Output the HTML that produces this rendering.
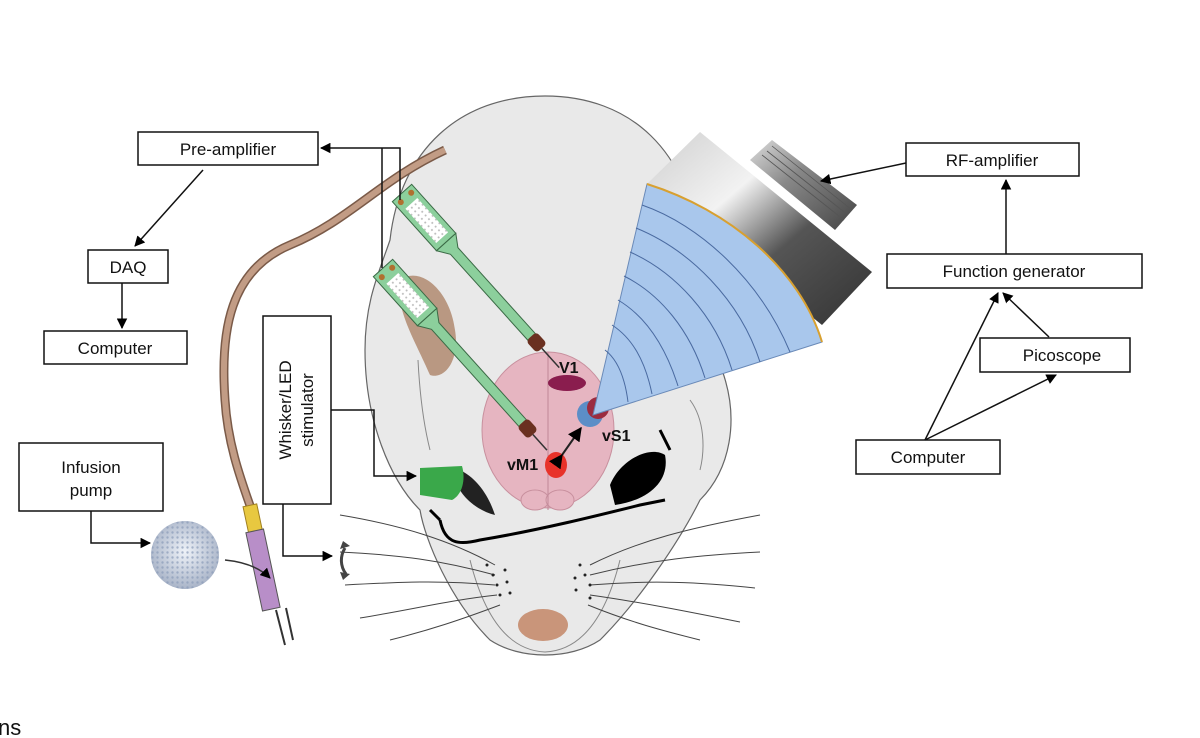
<!DOCTYPE html>
<html><head><meta charset="utf-8"><style>
html,body{margin:0;padding:0;background:#fff;width:1200px;height:738px;overflow:hidden}
svg{display:block}
text{font-family:"Liberation Sans",Arial,sans-serif;fill:#111}
</style></head><body>
<svg width="1200" height="738" viewBox="0 0 1200 738" xmlns="http://www.w3.org/2000/svg">
<defs>
<marker id="a" viewBox="0 0 10 10" refX="9" refY="5" markerWidth="7" markerHeight="7" orient="auto"><path d="M0,0L10,5L0,10z" fill="#000"/></marker>
<linearGradient id="metal" x1="0" y1="0" x2="1" y2="1"><stop offset="0" stop-color="#cfcfcf"/><stop offset="0.35" stop-color="#f2f2f2"/><stop offset="0.6" stop-color="#555"/><stop offset="1" stop-color="#333"/></linearGradient>
<linearGradient id="metal2" x1="0" y1="0" x2="1" y2="1"><stop offset="0" stop-color="#ddd"/><stop offset="0.4" stop-color="#888"/><stop offset="1" stop-color="#444"/></linearGradient>
<radialGradient id="sph" cx="0.5" cy="0.45" r="0.55"><stop offset="0" stop-color="#eef2f8"/><stop offset="1" stop-color="#a9b4c8"/></radialGradient>
<pattern id="dots" width="5" height="5" patternUnits="userSpaceOnUse"><circle cx="2.5" cy="2.5" r="1.2" fill="#8a9bb8"/></pattern>
<pattern id="pads" width="5" height="5" patternUnits="userSpaceOnUse"><rect width="5" height="5" fill="#fff"/><circle cx="2.5" cy="2.5" r="1" fill="#bbb"/></pattern>
</defs>

<!-- mouse head -->
<path d="M545,96 C630,96 690,150 700,250 C705,300 715,330 722,370 C740,420 730,470 700,500 C680,540 640,600 600,640 C570,660 520,660 490,640 C450,600 425,540 420,510 C390,480 365,420 365,350 C365,300 380,270 390,240 C400,150 460,96 545,96 Z" fill="#e9e9e9" stroke="#666" stroke-width="1.2"/>
<path d="M418,360 C420,400 425,430 430,450 M700,470 C705,450 705,420 690,400" fill="none" stroke="#888" stroke-width="1"/>
<!-- left ear -->
<path d="M400,280 C420,265 450,290 455,330 C460,360 445,380 430,375 C415,340 395,310 400,280Z" fill="#b08a70" opacity="0.85"/>
<!-- snout -->
<path d="M470,560 C480,600 500,650 545,652 C590,650 610,600 620,560" fill="none" stroke="#888" stroke-width="1"/>
<ellipse cx="543" cy="625" rx="25" ry="16" fill="#c9957a"/>

<!-- brain -->
<ellipse cx="548" cy="430" rx="66" ry="78" fill="#e6b5c1" stroke="#c8909e" stroke-width="1"/>
<ellipse cx="535" cy="500" rx="14" ry="10" fill="#e6b5c1" stroke="#c8909e"/>
<ellipse cx="560" cy="500" rx="14" ry="10" fill="#e6b5c1" stroke="#c8909e"/>
<line x1="548" y1="352" x2="548" y2="510" stroke="#c08898" stroke-width="1"/>
<ellipse cx="567" cy="383" rx="19" ry="8" fill="#8a1d4e"/>
<circle cx="590" cy="414" r="13" fill="#3a84c8" opacity="0.8"/>
<circle cx="598" cy="408" r="11" fill="#9b2c40"/>
<ellipse cx="556" cy="465" rx="11" ry="13" fill="#e8322a"/>
<line x1="562" y1="455" x2="581" y2="428" stroke="#222" stroke-width="2" marker-start="url(#a)" marker-end="url(#a)"/>
<text x="559" y="373" font-size="16" font-weight="bold">V1</text>
<text x="602" y="441" font-size="16" font-weight="bold">vS1</text>
<text x="507" y="470" font-size="16" font-weight="bold">vM1</text>

<!-- eyes -->
<path d="M460,470 C480,480 490,500 495,515 C475,510 460,495 455,480Z" fill="#222"/>
<path d="M420,468 L462,466 C466,480 462,495 452,500 L420,495 Z" fill="#3aa84a"/>
<path d="M610,485 C620,460 650,445 665,455 C670,480 650,500 615,505Z" fill="#000"/>
<!-- headband -->
<path d="M440,520 C445,545 460,545 480,540 C540,530 600,515 640,505 L665,500 M660,430 L670,450" fill="none" stroke="#000" stroke-width="3"/>
<path d="M430,510 L440,520" stroke="#000" stroke-width="3"/>

<!-- whiskers -->
<g stroke="#444" stroke-width="1" fill="none">
<path d="M495,565 C450,540 400,525 340,515"/><path d="M495,575 C440,560 400,555 340,552"/><path d="M495,585 C440,580 400,582 345,585"/><path d="M497,595 C450,600 410,610 360,618"/><path d="M500,605 C460,620 430,630 390,640"/>
<path d="M590,565 C640,540 690,528 760,515"/><path d="M590,575 C650,560 700,555 760,552"/><path d="M590,585 C650,580 700,582 755,588"/><path d="M590,595 C640,602 690,612 740,622"/><path d="M588,605 C630,622 660,630 700,640"/>
</g>
<g fill="#222"><circle cx="487" cy="565" r="1.5"/><circle cx="493" cy="575" r="1.5"/><circle cx="497" cy="585" r="1.5"/><circle cx="500" cy="595" r="1.5"/><circle cx="505" cy="570" r="1.5"/><circle cx="507" cy="582" r="1.5"/><circle cx="510" cy="593" r="1.5"/>
<circle cx="580" cy="565" r="1.5"/><circle cx="585" cy="575" r="1.5"/><circle cx="590" cy="585" r="1.5"/><circle cx="575" cy="578" r="1.5"/><circle cx="576" cy="590" r="1.5"/><circle cx="590" cy="598" r="1.5"/></g>

<!-- ultrasound transducer -->
<polygon points="700,132 872,272 822,325 647,184" fill="url(#metal)"/>
<polygon points="772,140 857,205 835,230 750,160" fill="url(#metal2)"/>
<g stroke="#555" stroke-width="0.8"><line x1="772" y1="146" x2="852" y2="210"/><line x1="767" y1="151" x2="848" y2="215"/><line x1="762" y1="155" x2="844" y2="220"/></g>
<path d="M647,184 C730,210 800,270 822,342 L593,415 Z" fill="#a9c7ec" stroke="#6a8ab8" stroke-width="1"/>
<path d="M647,184 C730,210 800,270 822,342" fill="none" stroke="#d8a030" stroke-width="2"/>
<g fill="none" stroke="#4a6aa0" stroke-width="1">
<path d="M642,205 C700,225 760,280 790,352"/><path d="M636,228 C690,250 740,300 760,362"/><path d="M630,252 C675,272 715,315 732,370"/><path d="M624,276 C660,294 690,330 705,378"/><path d="M618,300 C645,316 665,345 678,386"/><path d="M612,325 C632,338 645,360 652,394"/><path d="M605,350 C618,360 625,378 628,402"/>
</g>

<!-- tube -->
<path d="M445,150 C380,180 350,220 290,245 C230,270 220,330 225,400 C228,450 245,490 255,520" fill="none" stroke="#7a5a48" stroke-width="9"/>
<path d="M445,150 C380,180 350,220 290,245 C230,270 220,330 225,400 C228,450 245,490 255,520" fill="none" stroke="#c29c85" stroke-width="6"/>
<!-- syringe -->
<rect x="246" y="505" width="14" height="32" fill="#e8c840" stroke="#a08020" transform="rotate(-12 253 520)"/>
<rect x="254" y="530" width="18" height="80" fill="#b88ec8" stroke="#555" transform="rotate(-12 263 570)"/>
<line x1="276" y1="610" x2="285" y2="645" stroke="#333" stroke-width="2"/><line x1="286" y1="608" x2="293" y2="640" stroke="#333" stroke-width="2"/>
<path d="M225,560 C245,562 260,568 270,578" fill="none" stroke="#333" stroke-width="1.5" marker-end="url(#a)"/>
<!-- sphere -->
<circle cx="185" cy="555" r="34" fill="url(#sph)"/>
<circle cx="185" cy="555" r="34" fill="url(#dots)" opacity="0.7"/>

<!-- probes (pointing down-right) -->
<g transform="translate(402,193) rotate(-42)">
<rect x="-13" y="0" width="26" height="66" fill="#8ccf9c" stroke="#3a6a45" stroke-width="1"/>
<rect x="-8" y="14" width="16" height="46" fill="url(#pads)"/>
<path d="M-13,66 L-5,78 L-5,195 L5,195 L5,78 L13,66Z" fill="#8ccf9c" stroke="#3a6a45"/>
<circle cx="-7" cy="6" r="3" fill="#b07030"/><circle cx="7" cy="6" r="3" fill="#b07030"/>
<rect x="-7" y="193" width="14" height="16" rx="4" fill="#6a3020"/>
<line x1="0" y1="209" x2="0" y2="235" stroke="#333" stroke-width="1.5"/>
</g>
<g transform="translate(383,268) rotate(-42)">
<rect x="-13" y="0" width="26" height="66" fill="#8ccf9c" stroke="#3a6a45" stroke-width="1"/>
<rect x="-8" y="14" width="16" height="46" fill="url(#pads)"/>
<path d="M-13,66 L-5,78 L-5,210 L5,210 L5,78 L13,66Z" fill="#8ccf9c" stroke="#3a6a45"/>
<circle cx="-7" cy="6" r="3" fill="#b07030"/><circle cx="7" cy="6" r="3" fill="#b07030"/>
<rect x="-7" y="208" width="14" height="16" rx="4" fill="#6a3020"/>
<line x1="0" y1="224" x2="0" y2="245" stroke="#333" stroke-width="1.5"/>
</g>

<!-- boxes -->
<g fill="#fff" stroke="#111" stroke-width="1.5">
<rect x="138" y="132" width="180" height="33"/>
<rect x="88" y="250" width="80" height="33"/>
<rect x="44" y="331" width="143" height="33"/>
<rect x="263" y="316" width="68" height="188"/>
<rect x="19" y="443" width="144" height="68"/>
<rect x="906" y="143" width="173" height="33"/>
<rect x="887" y="254" width="255" height="34"/>
<rect x="980" y="338" width="150" height="34"/>
<rect x="856" y="440" width="144" height="34"/>
</g>
<g font-size="17" text-anchor="middle">
<text x="228" y="155">Pre-amplifier</text>
<text x="128" y="273">DAQ</text>
<text x="115" y="354">Computer</text>
<text x="91" y="473">Infusion</text>
<text x="91" y="496">pump</text>
<text x="992" y="166">RF-amplifier</text>
<text x="1014" y="277">Function generator</text>
<text x="1062" y="361">Picoscope</text>
<text x="928" y="463">Computer</text>
<text transform="translate(291,410) rotate(-90)">Whisker/LED</text>
<text transform="translate(313,410) rotate(-90)">stimulator</text>
</g>

<!-- connectors -->
<g fill="none" stroke="#111" stroke-width="1.5">
<path d="M400,200 L400,148 L321,148" marker-end="url(#a)"/>
<path d="M382,268 L382,148"/>
<path d="M203,170 L135,246" marker-end="url(#a)"/>
<path d="M122,283 L122,328" marker-end="url(#a)"/>
<path d="M331,410 L374,410 L374,476 L416,476" marker-end="url(#a)"/>
<path d="M283,504 L283,556 L332,556" marker-end="url(#a)"/>
<path d="M91,511 L91,543 L150,543" marker-end="url(#a)"/>
<path d="M906,163 L821,181" marker-end="url(#a)"/>
<path d="M1006,254 L1006,180" marker-end="url(#a)"/>
<path d="M925,440 L998,293" marker-end="url(#a)"/>
<path d="M925,440 L1056,375" marker-end="url(#a)"/>
<path d="M1049,337 L1003,293" marker-end="url(#a)"/>
</g>
<!-- whisker stimulator icon -->
<path d="M345,548 C340,556 340,566 346,574" fill="none" stroke="#444" stroke-width="3"/>
<path d="M343,541 L350,546 L340,549Z M343,580 L350,574 L340,572Z" fill="#444"/>

<text x="-2" y="735" font-size="22">ns</text>
</svg>
</body></html>
